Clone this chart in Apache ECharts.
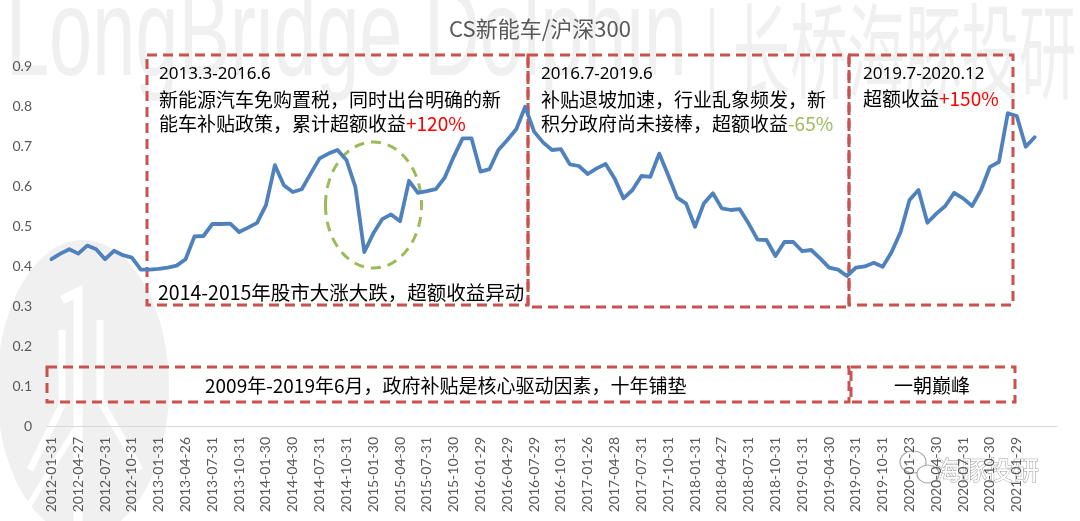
<!DOCTYPE html>
<html>
<head>
<meta charset="utf-8">
<script src="https://cdn.jsdelivr.net/npm/echarts@6/dist/echarts.min.js"></script>
<style>html,body{margin:0;padding:0;background:#fff}#c{width:1080px;height:521px}</style>
</head>
<body>
<div id="c"></div>
<script>
const titleText = 'CS新能车/沪深300';
const categories = [
'2012-01-31','2012-02-29','2012-03-30','2012-04-27','2012-05-31','2012-06-29','2012-07-31','2012-08-31','2012-09-28','2012-10-31','2012-11-30','2012-12-31',
'2013-01-31','2013-02-28','2013-03-29','2013-04-26','2013-05-31','2013-06-28','2013-07-31','2013-08-30','2013-09-30','2013-10-31','2013-11-29','2013-12-31',
'2014-01-30','2014-02-28','2014-03-31','2014-04-30','2014-05-30','2014-06-30','2014-07-31','2014-08-29','2014-09-30','2014-10-31','2014-11-28','2014-12-31',
'2015-01-30','2015-02-27','2015-03-31','2015-04-30','2015-05-29','2015-06-30','2015-07-31','2015-08-31','2015-09-30','2015-10-30','2015-11-30','2015-12-31',
'2016-01-29','2016-02-29','2016-03-31','2016-04-29','2016-05-31','2016-06-30','2016-07-29','2016-08-31','2016-09-30','2016-10-31','2016-11-30','2016-12-30',
'2017-01-26','2017-02-28','2017-03-31','2017-04-28','2017-05-31','2017-06-30','2017-07-31','2017-08-31','2017-09-29','2017-10-31','2017-11-30','2017-12-29',
'2018-01-31','2018-02-28','2018-03-30','2018-04-27','2018-05-31','2018-06-29','2018-07-31','2018-08-31','2018-09-28','2018-10-31','2018-11-30','2018-12-28',
'2019-01-31','2019-02-28','2019-03-29','2019-04-30','2019-05-31','2019-06-28','2019-07-31','2019-08-30','2019-09-30','2019-10-31','2019-11-29','2019-12-31',
'2020-01-23','2020-02-28','2020-03-31','2020-04-30','2020-05-29','2020-06-30','2020-07-31','2020-08-31','2020-09-30','2020-10-30','2020-11-30','2020-12-31',
'2021-01-29','2021-02-26','2021-03-31','',''
];
const ratio = [
0.417,0.431,0.442,0.431,0.451,0.442,0.417,0.438,0.427,0.421,0.391,0.391,
0.393,0.396,0.401,0.417,0.474,0.475,0.505,0.505,0.506,0.485,0.496,0.508,
0.552,0.652,0.602,0.585,0.592,0.631,0.669,0.681,0.690,0.665,0.598,0.435,
0.481,0.517,0.529,0.512,0.613,0.583,0.587,0.592,0.621,0.673,0.719,0.719,
0.636,0.642,0.690,0.715,0.742,0.798,0.736,0.709,0.690,0.692,0.654,0.650,
0.630,0.644,0.655,0.619,0.569,0.590,0.625,0.623,0.681,0.627,0.571,0.556,
0.498,0.557,0.582,0.544,0.540,0.542,0.506,0.466,0.465,0.425,0.460,0.460,
0.437,0.440,0.419,0.396,0.391,0.375,0.396,0.399,0.408,0.398,0.435,0.485,
0.565,0.590,0.508,0.531,0.550,0.583,0.569,0.550,0.590,0.648,0.660,0.782,
0.775,0.698,0.722
];
const yTicks = [0,0.1,0.2,0.3,0.4,0.5,0.6,0.7,0.8,0.9];

const RED = '#c9514e', GREEN = '#9bbb59';
const CJK = '"Noto Sans CJK SC","Noto Sans",sans-serif';
function box(x, y, w, h) {
  return { type: 'rect', z: 1, shape: { x: x, y: y, width: w, height: h },
    style: { fill: 'none', stroke: RED, lineWidth: 3, lineDash: [10, 6] }, silent: true };
}
function txt(x, y, text, size, extra) {
  return Object.assign({ type: 'text', z: 10, x: x, y: y,
    style: { text: text, font: size + 'px ' + CJK, fill: '#000', verticalAlign: 'middle',
      rich: { r: { fill: '#ff0000', font: size + 'px ' + CJK }, g: { fill: GREEN, font: size + 'px ' + CJK } } } }, extra || {});
}
function wline(points, w) {
  return { type: 'polyline', z: 0, silent: true, shape: { points: points },
    style: { fill: 'none', stroke: '#ffffff', lineWidth: w } };
}

const chart = echarts.init(document.getElementById('c'), null, { renderer: 'canvas' });
chart.setOption({
  backgroundColor: '#fff',
  animation: false,
  title: { text: titleText, left: 'center', top: 13,
    textStyle: { fontSize: 22, fontWeight: 'normal', color: '#595959', fontFamily: CJK } },
  grid: { left: 47, right: 23, top: 66, bottom: 95, containLabel: false },
  xAxis: {
    type: 'category', data: categories, boundaryGap: true,
    axisLine: { lineStyle: { color: '#d9d9d9', width: 1 } },
    axisTick: { show: false },
    axisLabel: { rotate: 90, interval: 2, margin: 11, fontSize: 14, color: '#595959', fontFamily: 'Lato' },
    splitLine: { show: false }
  },
  yAxis: {
    type: 'value', min: 0, max: 0.9, interval: 0.1,
    axisLine: { show: false }, axisTick: { show: false }, splitLine: { show: false },
    axisLabel: { margin: 15, fontSize: 14, color: '#595959', fontFamily: 'Lato',
      formatter: v => (Math.abs(v) < 1e-9 ? '0' : v.toFixed(1)) }
  },
  series: [{
    type: 'line', data: ratio, showSymbol: false, symbol: 'none', z: 5,
    lineStyle: { color: '#4f81bd', width: 3.8, join: 'round', cap: 'round' }
  }],
  graphic: { elements: [
    // watermark
    { type: 'ellipse', z: 0, silent: true, shape: { cx: 83, cy: 388, rx: 86, ry: 148 }, style: { fill: '#f0f0f0' } },
    wline([[62, 300], [78, 292], [78, 521]], 9),
    wline([[30, 470], [62, 405], [62, 330]], 7),
    wline([[100, 320], [100, 400], [140, 470]], 7),
    wline([[20, 520], [75, 430]], 6),
    { type: 'text', z: 0, silent: true, x: 6, y: 103, scaleX: 0.62, scaleY: 1,
      style: { text: 'LongBridge Dolphin', font: '125px "Liberation Sans"', fill: '#f0f0f0', verticalAlign: 'bottom' } },
    { type: 'rect', z: 0, silent: true, shape: { x: 710, y: 8, width: 4, height: 95 }, style: { fill: '#f0f0f0' } },
    { type: 'text', z: 0, silent: true, x: 733, y: 103, scaleX: 0.55, scaleY: 1,
      style: { text: '长桥海豚投研', font: '104px ' + CJK, fill: '#f0f0f0', verticalAlign: 'bottom' } },
    { type: 'text', z: 0, silent: true, x: 935, y: 470,
      style: { text: '海豚投研', font: '26px ' + CJK, fill: '#ffffff', stroke: '#9a9a9a', lineWidth: 1, verticalAlign: 'middle' } },
    { type: 'ellipse', z: 0, silent: true, shape: { cx: 913, cy: 462, rx: 13, ry: 11 }, style: { fill: 'none', stroke: '#aaaaaa', lineWidth: 1.2 } },
    { type: 'ellipse', z: 0, silent: true, shape: { cx: 928, cy: 474, rx: 11, ry: 9 }, style: { fill: '#fff', stroke: '#aaaaaa', lineWidth: 1.2 } },
    // annotation boxes
    box(147, 55, 381, 250),
    box(528, 55, 321, 252),
    box(849, 55, 164, 250),
    box(47, 367, 802, 35),
    box(851, 367, 164, 35),
    { type: 'ellipse', z: 1, silent: true, shape: { cx: 373.5, cy: 205, rx: 48, ry: 63 },
      style: { fill: 'none', stroke: GREEN, lineWidth: 3, lineDash: [10, 7] } },
    // annotation texts
    txt(159, 74, '2013.3-2016.6', 17, { style: { text: '2013.3-2016.6', font: '17px "Noto Sans"', fill: '#000', verticalAlign: 'middle' } }),
    txt(159, 100, '新能源汽车免购置税，同时出台明确的新', 19),
    txt(159, 124, '能车补贴政策，累计超额收益{r|+120%}', 19),
    txt(158, 293, '2014-2015年股市大涨大跌，超额收益异动', 19.5),
    txt(541, 74, '2016.7-2019.6', 17, { style: { text: '2016.7-2019.6', font: '17px "Noto Sans"', fill: '#000', verticalAlign: 'middle' } }),
    txt(541, 100, '补贴退坡加速，行业乱象频发，新', 19),
    txt(541, 124, '积分政府尚未接棒，超额收益{g|-65%}', 19),
    txt(863, 74, '2019.7-2020.12', 17, { style: { text: '2019.7-2020.12', font: '17px "Noto Sans"', fill: '#000', verticalAlign: 'middle' } }),
    txt(863, 99, '超额收益{r|+150%}', 19),
    txt(205, 386, '2009年-2019年6月，政府补贴是核心驱动因素，十年铺垫', 19),
    txt(894, 386, '一朝巅峰', 19)
  ] }
});
</script>
</body>
</html>
